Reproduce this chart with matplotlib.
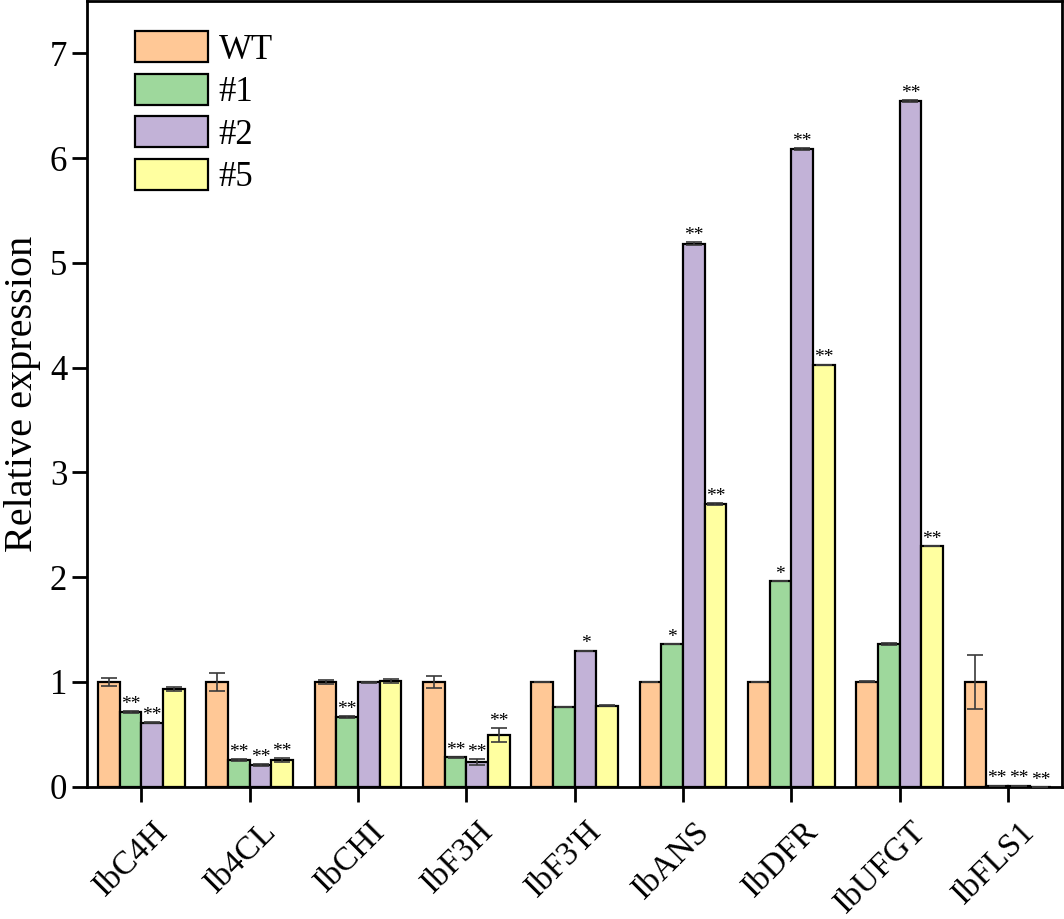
import numpy as np
import matplotlib
matplotlib.use("Agg")
import matplotlib.pyplot as plt
from matplotlib.transforms import ScaledTranslation

plt.rcParams['font.family'] = ['Liberation Serif', 'DejaVu Serif']

genes = ["IbC4H", "Ib4CL", "IbCHI", "IbF3H", "IbF3'H", "IbANS", "IbDFR", "IbUFGT", "IbFLS1"]
groups = ["WT", "#1", "#2", "#5"]

wt = [1.0, 1.0, 1.0, 1.0, 1.0, 1.0, 1.0, 1.0, 1.0]
l1 = [0.716, 0.255, 0.663, 0.28, 0.76, 1.36, 1.96, 1.365, 0.008]
l2 = [0.611, 0.204, 0.995, 0.236, 1.30, 5.185, 6.09, 6.545, 0.008]
l5 = [0.93, 0.255, 1.01, 0.494, 0.775, 2.695, 4.03, 2.30, 0.0]

wt_err = [0.035, 0.09, 0.02, 0.06, 0.0, 0.0, 0.0, 0.005, 0.255]
l1_err = [0.008, 0.005, 0.008, 0.005, 0.0, 0.0, 0.0, 0.01, 0.003]
l2_err = [0.005, 0.01, 0.008, 0.03, 0.0, 0.01, 0.01, 0.01, 0.003]
l5_err = [0.02, 0.015, 0.018, 0.065, 0.008, 0.01, 0.0, 0.0, 0.0]

# significance marks per line
l1_sig = ["**", "**", "**", "**", "", "*", "*", "", "**"]
l2_sig = ["**", "**", "", "**", "*", "**", "**", "**", "**"]
l5_sig = ["", "**", "", "**", "", "**", "**", "**", "**"]

colors = ["#FFC896", "#9ED89C", "#C2B2D7", "#FFFFA0"]

values = [wt, l1, l2, l5]
errors = [wt_err, l1_err, l2_err, l5_err]
sigs = [None, l1_sig, l2_sig, l5_sig]

fig = plt.figure(figsize=(10.64, 9.19), dpi=100)
ax = fig.add_axes([87.3 / 1064, 1 - 786.7 / 919, (1062 - 87.3) / 1064, (786.7 - 1) / 919])

x = np.arange(len(genes))
width = 0.2
for i in range(4):
    pos = x + (i - 1.5) * width
    ax.bar(pos, values[i], width, color=colors[i], edgecolor='black', linewidth=1.6,
           label=groups[i], zorder=2)
    ax.errorbar(pos, values[i], yerr=errors[i], fmt='none', ecolor='#3a3a3a',
                elinewidth=1.2, capsize=5.5, capthick=1.2, zorder=3)
    if sigs[i] is not None:
        for p, v, e, s in zip(pos, values[i], errors[i], sigs[i]):
            if s:
                ax.text(p, v + e + 0.02, s, ha='center', va='baseline', fontsize=14, zorder=4)

ax.set_xlim(-0.5, 8.5)
ax.set_ylim(0, 7.5)
ax.set_yticks(range(8))
ax.set_xticks(x)
ax.set_xticklabels([])

# rotated gene labels, shifted to sit like the original
lab_trans = ax.get_xaxis_transform() + ScaledTranslation(0.22, -0.40, fig.dpi_scale_trans)
for xi, g in zip(x, genes):
    ax.text(xi, 0, g, transform=lab_trans, rotation=45, ha='right', va='center',
            rotation_mode='anchor', fontsize=24, clip_on=False)

ax.tick_params(axis='both', labelsize=25, width=2, length=11, direction='out')
for s in ax.spines.values():
    s.set_linewidth(2)

ax.set_ylabel("Relative expression", fontsize=29, labelpad=6)

ax.legend(loc='upper left', bbox_to_anchor=(0.035, 0.979), frameon=False, fontsize=25,
          handlelength=2.1, handleheight=1.0, handletextpad=0.3, labelspacing=0.2,
          borderaxespad=0)

fig.savefig("out.png", dpi=100)
